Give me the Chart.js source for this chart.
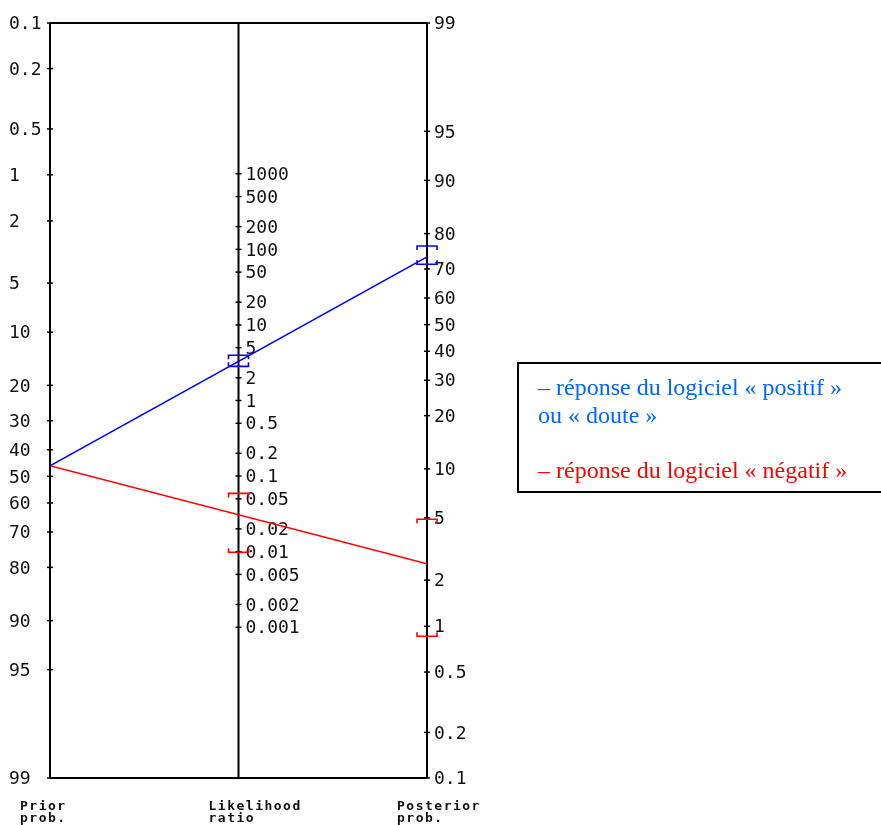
<!DOCTYPE html>
<html>
<head>
<meta charset="utf-8">
<script src="https://cdn.jsdelivr.net/npm/chart.js@4.4.1/dist/chart.umd.min.js"></script>
<style>
  html, body { margin: 0; padding: 0; background: #fff; }
  body { width: 881px; height: 825px; position: relative; overflow: hidden; }
  #chart { position: absolute; left: 0; top: 0; }
  #legendBox {
    position: absolute; left: 517px; top: 362px; width: 400px; height: 131px;
    box-sizing: border-box; border: 2px solid #000; padding: 10px 0 0 19px;
    font-family: "Liberation Serif", "Times New Roman", serif; font-size: 24px; line-height: 27.5px;
  }
  .blue { color: #0066ff; }
  .red { color: #ff0000; }
</style>
</head>
<body>
<canvas id="chart" width="881" height="825"></canvas>
<div id="legendBox">
  <div class="blue">– réponse du logiciel « positif »<br>ou « doute »</div>
  <div>&nbsp;</div>
  <div class="red">– réponse du logiciel « négatif »</div>
</div>
<script>
// tick labels of the three scales
const priorTicks = [0.1, 0.2, 0.5, 1, 2, 5, 10, 20, 30, 40, 50, 60, 70, 80, 90, 95, 99];
const lrTicks = [1000, 500, 200, 100, 50, 20, 10, 5, 2, 1, 0.5, 0.2, 0.1, 0.05, 0.02, 0.01, 0.005, 0.002, 0.001];
const postTicks = [99, 95, 90, 80, 70, 60, 50, 40, 30, 20, 10, 5, 2, 1, 0.5, 0.2, 0.1];
const axisTitles = [["Prior", "prob."], ["Likelihood", "ratio"], ["Posterior", "prob."]];

// (probabilities in %)
const priorProb = 46;
const seriesNames = ["positif ou doute", "négatif"];
const seriesColors = ["#0000ff", "#ff0000"];
const postProb = [73.7, 2.55];
const lrLow = [2.83, 0.0098];
const lrHigh = [3.97, 0.059];
const postLow = [71.5, 0.86];
const postHigh = [76.8, 4.9];

// nomogram: y is the logit of the prior scale, the other two scales map onto it
const logit = p => Math.log(p / (100 - p));
const U_TOP = logit(0.1), U_BOT = logit(99);
const uLeft = p => logit(p);
const uRight = q => U_TOP + U_BOT - logit(q);
const uMid = lr => (U_TOP + U_BOT - Math.log(lr)) / 2;

const fmt = v => String(v);

const nomogram = {
  id: "nomogram",
  beforeDatasetsDraw(chart) {
    const ctx = chart.ctx, xs = chart.scales.x, ys = chart.scales.y;
    const x0 = xs.getPixelForValue(0), x1 = xs.getPixelForValue(1), x2 = xs.getPixelForValue(2);
    const yT = ys.getPixelForValue(U_TOP), yB = ys.getPixelForValue(U_BOT);
    ctx.save();
    ctx.strokeStyle = "#000";
    ctx.lineWidth = 2;
    ctx.beginPath();
    ctx.moveTo(x0, yT); ctx.lineTo(x2, yT);
    ctx.moveTo(x0, yB); ctx.lineTo(x2, yB);
    [x0, x1, x2].forEach(x => { ctx.moveTo(x, yT); ctx.lineTo(x, yB); });
    ctx.stroke();

    ctx.fillStyle = "#111";
    ctx.font = "18px 'DejaVu Sans Mono', monospace";
    ctx.textBaseline = "middle";
    ctx.textAlign = "left";
    const axes = [
      { ticks: priorTicks, u: uLeft, x: x0, lx: x0 - 41 },
      { ticks: lrTicks, u: uMid, x: x1, lx: x1 + 7 },
      { ticks: postTicks, u: uRight, x: x2, lx: x2 + 7 }
    ];
    ctx.lineWidth = 1.5;
    axes.forEach(a => {
      a.ticks.forEach(t => {
        const y = ys.getPixelForValue(a.u(t));
        ctx.beginPath();
        ctx.moveTo(a.x - 3, y); ctx.lineTo(a.x + 3, y);
        ctx.stroke();
        ctx.fillText(fmt(t), a.lx, y + 1.5);
      });
    });

    ctx.font = "bold 13px 'DejaVu Sans Mono', monospace";
    ctx.letterSpacing = "1.5px";
    ctx.textBaseline = "alphabetic";
    [x0, x1, x2].forEach((x, i) => {
      ctx.fillText(axisTitles[i][0], x - 30, yB + 32);
      ctx.fillText(axisTitles[i][1], x - 30, yB + 44);
    });
    ctx.restore();
  },
  afterDatasetsDraw(chart) {
    const ctx = chart.ctx, xs = chart.scales.x, ys = chart.scales.y;
    const bracket = (x, y, dir) => {
      ctx.beginPath();
      ctx.moveTo(x - 10, y + dir * 4);
      ctx.lineTo(x - 10, y);
      ctx.lineTo(x + 10, y);
      ctx.lineTo(x + 10, y + dir * 4);
      ctx.stroke();
    };
    ctx.save();
    ctx.lineWidth = 1.6;
    seriesNames.forEach((n, i) => {
      ctx.strokeStyle = seriesColors[i];
      const x1 = xs.getPixelForValue(1), x2 = xs.getPixelForValue(2);
      bracket(x1, ys.getPixelForValue(uMid(lrHigh[i])), 1);
      bracket(x1, ys.getPixelForValue(uMid(lrLow[i])), -1);
      bracket(x2, ys.getPixelForValue(uRight(postHigh[i])), 1);
      bracket(x2, ys.getPixelForValue(uRight(postLow[i])), -1);
    });
    ctx.restore();
  }
};

new Chart(document.getElementById("chart"), {
  type: "scatter",
  data: {
    datasets: seriesNames.map((name, i) => ({
      label: name,
      data: [{ x: 0, y: uLeft(priorProb) }, { x: 2, y: uRight(postProb[i]) }],
      showLine: true,
      borderColor: seriesColors[i],
      borderWidth: 1.5,
      pointRadius: 0
    }))
  },
  options: {
    responsive: false,
    animation: false,
    layout: { padding: { left: 50, right: 454, top: 23, bottom: 47 } },
    plugins: { legend: { display: false }, tooltip: { enabled: false } },
    scales: {
      x: { type: "linear", min: 0, max: 2, display: false },
      y: { type: "linear", min: U_TOP, max: U_BOT, reverse: true, display: false }
    }
  },
  plugins: [nomogram]
});
</script>
</body>
</html>
